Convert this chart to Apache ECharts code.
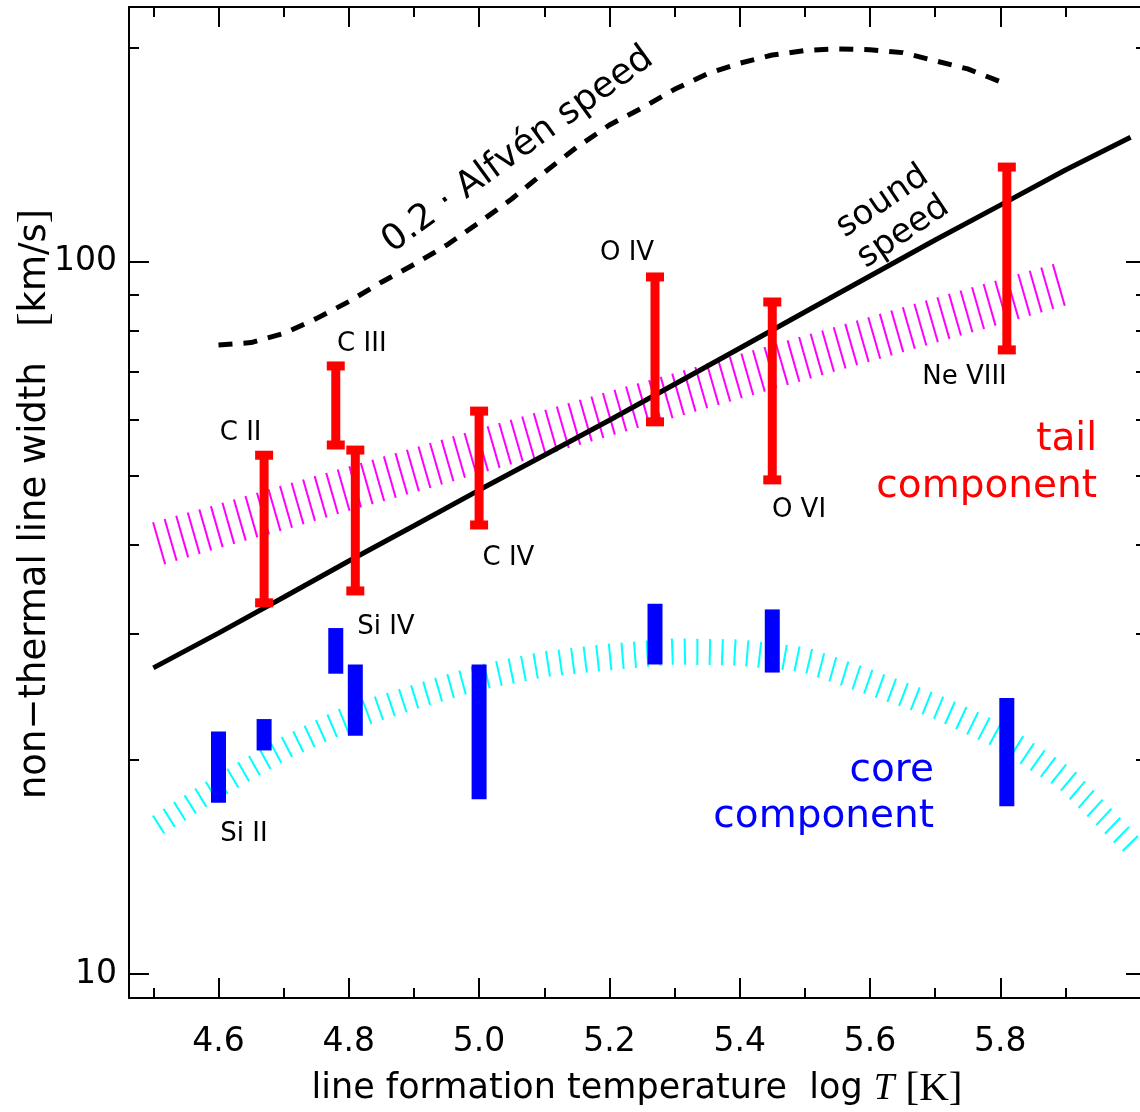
<!DOCTYPE html>
<html><head><meta charset="utf-8">
<script src="https://cdn.jsdelivr.net/npm/echarts@6/dist/echarts.min.js"></script>
<style>html,body{margin:0;padding:0;background:#fff}#c{width:1140px;height:1112px}</style>
</head><body><div id="c"></div>
<script>
// ---------- data ----------
const ions     = ['Si II', 'C II', 'C III', 'Si IV', 'C IV', 'O IV', 'O VI', 'Ne VIII'];
const ionLogT  = [4.60, 4.67, 4.78, 4.81, 5.00, 5.27, 5.45, 5.81];
// tail component (red error bars), km/s
const tailLow  = [null, 33.2, 55.3, 34.5, 42.7, 59.6, 49.4, 75.2];
const tailHigh = [null, 53.5, 71.4, 54.4, 61.7, 95.2, 87.8, 135.8];
// core component (blue boxes), km/s
const coreLow  = [17.4, 20.6, 26.4, 21.6, 17.6, 27.2, 26.5, 17.2];
const coreHigh = [21.9, 22.8, 30.6, 27.2, 27.2, 33.1, 32.5, 24.4];

// sound speed (solid line)
const soundLogT = [4.5, 4.6, 4.7, 4.8, 4.9, 5.0, 5.1, 5.2, 5.3, 5.4, 5.5, 5.6, 5.7, 5.8, 5.9, 6.0];
const soundVal  = [26.9, 30.1, 33.8, 38.0, 42.6, 47.8, 53.5, 59.9, 67.3, 75.6, 85.0, 95.5, 107.3, 120.1, 134.5, 149.6];

// 0.2 * Alfven speed (dashed line)
const alfvenLogT = [4.60, 4.65, 4.70, 4.75, 4.80, 4.85, 4.90, 4.95, 5.00, 5.05, 5.10, 5.15, 5.20, 5.25, 5.30, 5.35, 5.40, 5.45, 5.50, 5.55, 5.60, 5.65, 5.70, 5.75, 5.80];
const alfvenVal  = [76.4, 77.0, 79.3, 83.2, 87.9, 93.6, 99.1, 105.5, 113.5, 122.5, 133.5, 144.8, 155.6, 164.4, 174.6, 183.6, 190.0, 195.1, 197.9, 199.0, 198.5, 196.6, 191.5, 186.5, 179.0];

// tail band (magenta hatched)
const tailBandLogT = [4.5, 4.6, 4.7, 4.8, 4.9, 5.0, 5.1, 5.2, 5.3, 5.4, 5.5, 5.6, 5.7, 5.8, 5.9];
const tailBandLow  = [37.2, 39.6, 42.0, 44.7, 47.4, 50.4, 53.5, 56.9, 60.4, 64.2, 68.2, 72.4, 76.9, 81.7, 86.8];
const tailBandHigh = [43.1, 45.7, 48.6, 51.6, 54.8, 58.3, 61.9, 65.8, 69.8, 74.2, 78.8, 83.7, 89.0, 94.5, 100.4];

// core band (cyan hatched)
const coreBandLogT = [4.5, 4.6, 4.7, 4.8, 4.9, 5.0, 5.1, 5.2, 5.3, 5.4, 5.5, 5.6, 5.7, 5.8, 5.9, 6.0];
const coreBandLow  = [15.4, 17.6, 19.9, 21.9, 23.5, 25.0, 26.1, 26.7, 27.2, 27.1, 26.5, 24.6, 22.8, 20.6, 17.9, 14.5];
const coreBandHigh = [16.7, 19.1, 21.6, 23.9, 25.5, 27.2, 28.4, 29.1, 29.6, 29.5, 28.8, 26.8, 24.8, 22.6, 19.8, 16.0];

// axis ticks
const xMajorTicks = [4.6, 4.8, 5.0, 5.2, 5.4, 5.6, 5.8];
const xMinorTicks = [4.5, 4.7, 4.9, 5.1, 5.3, 5.5, 5.7, 5.9];
const yMajorTicks = [10, 100];
const yMinorTicks = [20, 30, 40, 50, 60, 70, 80, 90, 200];

// ion label anchors (data coords)
const ionLabelLogT = [4.639, 4.634, 4.820, 4.857, 5.045, 5.227, 5.491, 5.745];
const ionLabelVal  = [15.7, 57.5, 76.5, 30.7, 38.4, 102.8, 44.8, 68.8];

// ---------- chart ----------
const X_MIN = 4.46262, X_MAX = 6.02364;
const Y_MIN = 9.254, Y_MAX = 227.85;
const FONT = '"DejaVu Sans", sans-serif';

function xAxisDef(pos, ticks, len, showLine, showLabel) {
  return {
    type: 'value', position: pos, min: X_MIN, max: X_MAX, gridIndex: 0,
    axisLine: { show: showLine, onZero: false, lineStyle: { color: '#000', width: 2 } },
    axisTick: { show: true, inside: true, length: len, customValues: ticks, lineStyle: { color: '#000', width: 2 } },
    axisLabel: { show: showLabel, customValues: ticks, margin: 28, color: '#000', fontSize: 33, fontFamily: FONT,
                 formatter: v => Number(v).toFixed(1) },
    splitLine: { show: false }
  };
}
function yAxisDef(pos, ticks, len, showLine, showLabel) {
  return {
    type: 'log', logBase: 10, position: pos, min: Y_MIN, max: Y_MAX, gridIndex: 0,
    axisLine: { show: showLine, onZero: false, lineStyle: { color: '#000', width: 2 } },
    axisTick: { show: true, inside: true, length: len, customValues: ticks, lineStyle: { color: '#000', width: 2 } },
    axisLabel: { show: showLabel, customValues: ticks, margin: 12, color: '#000', fontSize: 33, fontFamily: FONT,
                 formatter: v => String(Math.round(v)) },
    splitLine: { show: false }
  };
}

function lerp(a, b, t) { return [a[0] + (b[0] - a[0]) * t, a[1] + (b[1] - a[1]) * t]; }

function hatchSeries(xs, lo, hi, color, spacing) {
  const data = xs.map((x, i) => [x, lo[i], hi[i]]);
  return {
    type: 'custom', xAxisIndex: 0, yAxisIndex: 0, silent: true, z: 1, clip: false,
    data: data,
    renderItem: function (params, api) {
      const i = params.dataIndex;
      if (i >= data.length - 1) return null;
      const P = data.map(d => {
        const u = api.coord([d[0], d[2]]), l = api.coord([d[0], d[1]]);
        return { u: u, l: l, m: [(u[0] + l[0]) / 2, (u[1] + l[1]) / 2] };
      });
      const tan = P.map((p, k) => {
        const a = P[Math.max(0, k - 1)].m, b = P[Math.min(P.length - 1, k + 1)].m;
        const dx = b[0] - a[0], dy = b[1] - a[1], len = Math.hypot(dx, dy);
        return [dx / len, dy / len];
      });
      let s0 = 0;
      for (let k = 0; k < i; k++) s0 += Math.hypot(P[k + 1].m[0] - P[k].m[0], P[k + 1].m[1] - P[k].m[1]);
      const segLen = Math.hypot(P[i + 1].m[0] - P[i].m[0], P[i + 1].m[1] - P[i].m[1]);
      const children = [];
      let s = Math.ceil((s0 - spacing / 2) / spacing) * spacing + spacing / 2;
      for (; s < s0 + segLen; s += spacing) {
        if (s < s0) continue;
        const t = (s - s0) / segLen;
        const u = lerp(P[i].u, P[i + 1].u, t), l = lerp(P[i].l, P[i + 1].l, t);
        const m = [(u[0] + l[0]) / 2, (u[1] + l[1]) / 2];
        let T = lerp(tan[i], tan[i + 1], t);
        const tl = Math.hypot(T[0], T[1]); T = [T[0] / tl, T[1] / tl];
        const N = [-T[1], T[0]];
        const h = (l[1] - u[1]) / 2 * T[0];
        children.push({
          type: 'line',
          shape: { x1: m[0] - N[0] * h, y1: m[1] - N[1] * h, x2: m[0] + N[0] * h, y2: m[1] + N[1] * h },
          style: { stroke: color, lineWidth: 2 }
        });
      }
      return { type: 'group', children: children };
    }
  };
}

const tailData = [], coreData = [];
ions.forEach((n, i) => {
  if (tailLow[i] != null) tailData.push([ionLogT[i], tailLow[i], tailHigh[i]]);
  coreData.push([ionLogT[i], coreLow[i], coreHigh[i]]);
});

const option = {
  animation: false,
  backgroundColor: '#fff',
  grid: { left: 129, top: 7, width: 1017, height: 991, containLabel: false, outerBoundsMode: 'none' },
  xAxis: [
    xAxisDef('bottom', xMajorTicks, 20, true, true),
    xAxisDef('bottom', xMinorTicks, 10, false, false),
    xAxisDef('top', xMajorTicks, 20, true, false),
    xAxisDef('top', xMinorTicks, 10, false, false)
  ],
  yAxis: [
    yAxisDef('left', yMajorTicks, 20, true, true),
    yAxisDef('left', yMinorTicks, 10, false, false),
    yAxisDef('right', yMajorTicks, 20, true, false),
    yAxisDef('right', yMinorTicks, 10, false, false)
  ],
  series: [
    hatchSeries(tailBandLogT, tailBandLow, tailBandHigh, '#ff00ff', 12),
    hatchSeries(coreBandLogT, coreBandLow, coreBandHigh, '#00ffff', 12.5),
    {
      type: 'line', xAxisIndex: 0, yAxisIndex: 0, z: 3, silent: true, showSymbol: false, symbol: 'none',
      data: soundLogT.map((x, i) => [x, soundVal[i]]),
      lineStyle: { color: '#000', width: 5 }
    },
    {
      type: 'line', xAxisIndex: 0, yAxisIndex: 0, z: 3, silent: true, showSymbol: false, symbol: 'none',
      data: alfvenLogT.map((x, i) => [x, alfvenVal[i]]),
      lineStyle: { color: '#000', width: 5, type: [14, 11] }
    },
    {
      type: 'custom', xAxisIndex: 0, yAxisIndex: 0, z: 4, silent: true, clip: false,
      data: tailData,
      renderItem: function (params, api) {
        const x = api.value(0), lo = api.value(1), hi = api.value(2);
        const pT = api.coord([x, hi]), pB = api.coord([x, lo]);
        const st = { fill: '#ff0000' };
        return { type: 'group', children: [
          { type: 'rect', shape: { x: pT[0] - 4.5, y: pT[1], width: 9, height: pB[1] - pT[1] }, style: st },
          { type: 'rect', shape: { x: pT[0] - 9, y: pT[1] - 4.5, width: 18, height: 9 }, style: st },
          { type: 'rect', shape: { x: pB[0] - 9, y: pB[1] - 4.5, width: 18, height: 9 }, style: st }
        ] };
      }
    },
    {
      type: 'custom', xAxisIndex: 0, yAxisIndex: 0, z: 4, silent: true, clip: false,
      data: coreData,
      renderItem: function (params, api) {
        const x = api.value(0), lo = api.value(1), hi = api.value(2);
        const pT = api.coord([x, hi]), pB = api.coord([x, lo]);
        return { type: 'rect', shape: { x: pT[0] - 7.5, y: pT[1], width: 15, height: pB[1] - pT[1] }, style: { fill: '#0000ff' } };
      }
    },
    {
      type: 'custom', xAxisIndex: 0, yAxisIndex: 0, z: 5, silent: true, clip: false,
      data: ionLabelLogT.map((x, i) => [x, ionLabelVal[i]]),
      renderItem: function (params, api) {
        const p = api.coord([api.value(0), api.value(1)]);
        return { type: 'text', x: p[0], y: p[1],
          style: { text: ions[params.dataIndex], fill: '#000', font: '26px ' + FONT, align: 'center', verticalAlign: 'middle' } };
      }
    }
  ],
  graphic: [
    { type: 'text', x: 518, y: 150, rotation: 36 * Math.PI / 180,
      style: { text: '0.2 · Alfvén speed', fill: '#000', font: '36px ' + FONT, align: 'center', verticalAlign: 'middle' } },
    { type: 'text', x: 893, y: 217, rotation: 34 * Math.PI / 180,
      style: { text: 'sound\nspeed', fill: '#000', font: '34px ' + FONT, lineHeight: 37, align: 'center', verticalAlign: 'middle' } },
    { type: 'text', x: 1097, y: 416,
      style: { text: 'tail\ncomponent', fill: '#ff0000', font: '39px ' + FONT, lineHeight: 47, align: 'right', verticalAlign: 'top' } },
    { type: 'text', x: 934, y: 748,
      style: { text: 'core\ncomponent', fill: '#0000ff', font: '39px ' + FONT, lineHeight: 46, align: 'right', verticalAlign: 'top' } },
    { type: 'text', x: 637, y: 1089,
      style: { text: 'line formation temperature  log {i|T} {b|[K]}', fill: '#000', font: '35px ' + FONT, align: 'center', verticalAlign: 'middle',
        rich: { i: { fontFamily: '"Liberation Serif", serif', fontStyle: 'italic', fontSize: 37, fill: '#000' },
                b: { fontFamily: '"Liberation Serif", serif', fontSize: 41, fill: '#000' } } } },
    { type: 'text', x: 35, y: 504, rotation: Math.PI / 2,
      style: { text: 'non\u2212thermal line width   {b|[}km/s{b|]}', fill: '#000', font: '37px ' + FONT, align: 'center', verticalAlign: 'middle',
        rich: { b: { fontFamily: '"Liberation Serif", serif', fontSize: 43, fill: '#000' } } } }
  ]
};

const chart = echarts.init(document.getElementById('c'), null, { renderer: 'canvas' });
chart.setOption(option);
</script>
</body></html>
